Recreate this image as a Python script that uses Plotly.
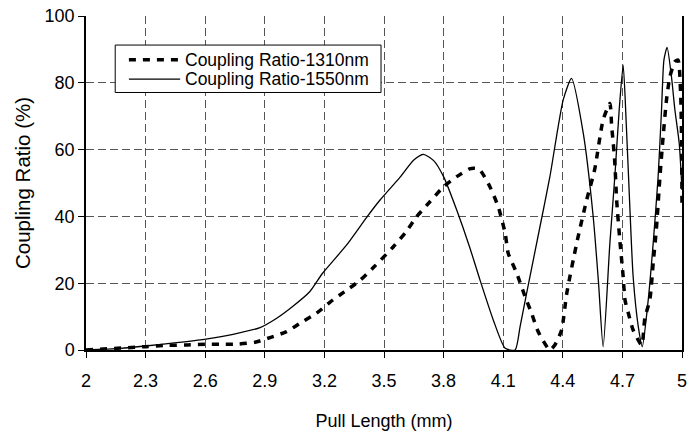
import plotly.graph_objects as go

# --- data ---
x_1550 = [2.0, 2.17, 2.3, 2.456, 2.595, 2.74, 2.876, 2.96, 3.04, 3.127, 3.19, 3.31, 3.41, 3.48,
          3.58, 3.65, 3.698, 3.75, 3.80, 3.866, 3.93, 3.983, 4.05, 4.11, 4.16, 4.185, 4.218,
          4.285, 4.335, 4.402, 4.444, 4.503, 4.553, 4.58, 4.603, 4.637, 4.662, 4.684, 4.704,
          4.72, 4.738, 4.754, 4.78, 4.80, 4.83, 4.855, 4.88, 4.897, 4.909, 4.925, 4.947,
          4.964, 4.986, 5.0]
y_1550 = [0, 0.5, 1.2, 2.2, 3.2, 4.7, 6.7, 9.5, 13, 17.5, 22.9, 31.3, 39.5, 44.9,
          51.7, 56.9, 58.6, 56.7, 51.9, 41.9, 31, 21, 9, 0.5, 0, 7, 17,
          36.9, 51.9, 74.9, 81.3, 64.9, 39.9, 20, 1, 32, 52, 72, 85.3,
          67, 42, 22, 7, 1, 15, 32, 52, 72, 86.8, 90.6, 81.8,
          72, 61.9, 47.9]

x_1310 = [2.0, 2.3, 2.41, 2.51, 2.6, 2.68, 2.77, 2.85, 2.93, 3.01, 3.09, 3.16, 3.23, 3.30,
          3.38, 3.45, 3.547, 3.61, 3.664, 3.73, 3.80, 3.866, 3.93, 3.958, 3.983, 4.033,
          4.075, 4.11, 4.125, 4.168, 4.21, 4.243, 4.276, 4.335, 4.36, 4.394, 4.42, 4.47,
          4.52, 4.56, 4.603, 4.637, 4.646, 4.654, 4.662, 4.671, 4.687, 4.704, 4.713, 4.73,
          4.754, 4.797, 4.813, 4.838, 4.855, 4.872, 4.889, 4.905, 4.922, 4.939, 4.964,
          4.98, 4.993, 4.998, 5.0]
y_1310 = [0, 1, 1.4, 1.5, 1.7, 1.7, 1.8, 2.3, 3.8, 5.5, 8.5, 11, 14.4, 17.4,
          20.9, 24.9, 30.9, 35.3, 39.9, 44.3, 48.9, 51.9, 54.2, 54.4, 53.9, 48.9,
          42.9, 34.9, 29, 23, 16, 11, 5.5, 0, 1.5, 6, 17, 32,
          44.9, 53.9, 68.9, 73.8, 66.9, 61.9, 55.9, 44.9, 32.9, 21.9, 15, 11,
          6, 1.5, 9.6, 15, 26, 37, 51.9, 63.9, 74.9, 81.8, 86.3,
          86.8, 77, 62, 42]

x_tick_vals = [2, 2.3, 2.6, 2.9, 3.2, 3.5, 3.8, 4.1, 4.4, 4.7, 5]
x_tick_text = ["2", "2.3", "2.6", "2.9", "3.2", "3.5", "3.8", "4.1", "4.4", "4.7", "5"]
y_tick_vals = [0, 20, 40, 60, 80, 100]

series_names = ["Coupling Ratio-1310nm", "Coupling Ratio-1550nm"]

DASHED = dict(color="black", width=3.5, dash="7px,7px")
SOLID = dict(color="black", width=1.3)

fig = go.Figure()
fig.add_trace(go.Scatter(x=x_1310, y=y_1310, mode="lines", name=series_names[0],
                         line=dict(shape="spline", smoothing=0.6, **DASHED)))
fig.add_trace(go.Scatter(x=x_1550, y=y_1550, mode="lines", name=series_names[1],
                         line=dict(shape="spline", smoothing=0.6, **SOLID)))

FONT = "Arial, 'Liberation Sans', sans-serif"
grid = dict(showgrid=True, gridcolor="#555555", gridwidth=1, griddash="8px,4px",
            zeroline=False, showline=True, linecolor="black", linewidth=1.5,
            ticks="outside", ticklen=6, tickcolor="black", tickwidth=1, automargin=False,
            ticklabeloverflow="allow", tickfont=dict(family=FONT, size=18, color="black"))

# legend drawn as a boxed key (paper coordinates)
shapes = [
    dict(type="rect", xref="paper", yref="paper", x0=0.049, x1=0.495, y0=0.771, y1=0.913,
         line=dict(color="black", width=1), fillcolor="white", layer="above"),
    dict(type="line", xref="paper", yref="paper", x0=0.072, x1=0.158, y0=0.869, y1=0.869,
         line=DASHED, layer="above"),
    dict(type="line", xref="paper", yref="paper", x0=0.072, x1=0.158, y0=0.811, y1=0.811,
         line=SOLID, layer="above"),
]
annotations = [
    dict(xref="paper", yref="paper", x=0.162, y=0.869, text=series_names[0], showarrow=False,
         xanchor="left", yanchor="middle", font=dict(family=FONT, size=17.5, color="black")),
    dict(xref="paper", yref="paper", x=0.162, y=0.811, text=series_names[1], showarrow=False,
         xanchor="left", yanchor="middle", font=dict(family=FONT, size=17.5, color="black")),
]

fig.update_layout(
    width=688, height=439,
    margin=dict(l=86, r=6, t=16, b=89),
    paper_bgcolor="white", plot_bgcolor="white",
    font=dict(family=FONT, size=18, color="black"),
    showlegend=False,
    shapes=shapes, annotations=annotations,
    xaxis=dict(range=[2, 5], tickvals=x_tick_vals, ticktext=x_tick_text, ticklabelstandoff=8,
               title=dict(text="Pull Length (mm)", standoff=24,
                          font=dict(family=FONT, size=18, color="black")), **grid),
    yaxis=dict(range=[0, 100], tickvals=y_tick_vals, mirror=True,
               title=dict(text="Coupling Ratio (%)", standoff=8,
                          font=dict(family=FONT, size=20.5, color="black")), **grid),
)

# remove the page's default 8px body margin so the figure sits at the window origin
fig.write_html(
    "out.html",
    config={"displayModeBar": False},
    post_script="document.body.style.margin='0px';"
                "document.body.style.overflow='hidden';"
                "document.documentElement.style.overflow='hidden';",
)
